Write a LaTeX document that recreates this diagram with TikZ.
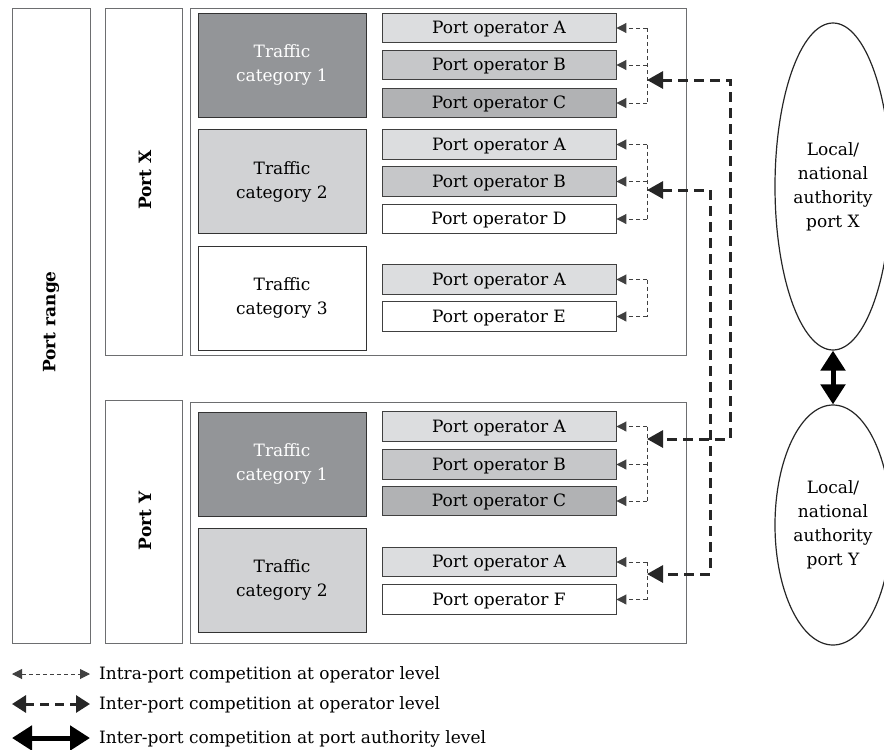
\documentclass[tikz,border=0pt]{standalone}
\usepackage{fontspec}
\setmainfont{DejaVu Serif}
\usetikzlibrary{arrows.meta,shapes.geometric}
\definecolor{catdark}{HTML}{939598}
\definecolor{catlight}{HTML}{D1D2D4}
\definecolor{opA}{HTML}{DCDDDF}
\definecolor{opB}{HTML}{C6C7C9}
\definecolor{opC}{HTML}{B1B2B4}
\definecolor{frameC}{HTML}{6D6E70}
\begin{document}
\begin{tikzpicture}[x=1pt,y=-1pt,
  txt/.style={font=\fontsize{17}{24}\selectfont},
  boldtxt/.style={font=\fontsize{17}{24}\selectfont\bfseries},
  frame/.style={draw=frameC,line width=1pt,inner sep=0pt},
  catbox/.style={draw=black!80,line width=0.9pt,minimum width=168pt,minimum height=104pt,inner sep=0pt,align=center,txt},
  opbox/.style={draw=black!75,line width=0.9pt,minimum width=234pt,minimum height=29.5pt,inner sep=0pt,text height=12.5pt,text depth=1.5pt,txt},
  intra/.style={draw=black!75,line width=1pt,dash pattern=on 4pt off 3pt},
  intrahead/.style={-{Triangle[length=10pt,width=10pt]}},
  inter/.style={draw=black!85,line width=3pt,dash pattern=on 10pt off 6pt,{Triangle[length=16pt,width=17pt]}-{Triangle[length=16pt,width=17pt]}},
  auth/.style={draw=black,line width=5pt,{Triangle[length=20pt,width=24pt]}-{Triangle[length=20pt,width=24pt]}},
  authority/.style={draw=black!85,line width=1.2pt,ellipse,minimum width=116pt,align=center,inner sep=0pt,txt}
]
\useasboundingbox (0,0) rectangle (884,750);
% outer frames
\node[frame,minimum width=78pt,minimum height=635pt] (range) at (51,325.5) {};
\node[rotate=90,boldtxt] (rangelbl) at (51,322) {Port range};
\node[frame,minimum width=77pt,minimum height=347pt] (portX) at (143.5,181.5) {};
\node[rotate=90,boldtxt] (portXlbl) at (145,180) {Port X};
\node[frame,minimum width=77pt,minimum height=243pt] (portY) at (143.5,521.5) {};
\node[rotate=90,boldtxt] (portYlbl) at (145,521) {Port Y};
\node[frame,minimum width=496pt,minimum height=347pt] (Xin) at (438,181.5) {};
\node[frame,minimum width=496pt,minimum height=241pt] (Yin) at (438,522.5) {};
% traffic categories
\node[catbox,fill=catdark,text=white] (xc1) at (282,65) {Traffic\\category 1};
\node[catbox,fill=catlight] (xc2) at (282,181.5) {Traffic\\category 2};
\node[catbox,fill=white] (xc3) at (282,298) {Traffic\\category 3};
\node[catbox,fill=catdark,text=white] (yc1) at (282,464) {Traffic\\category 1};
\node[catbox,fill=catlight] (yc2) at (282,580) {Traffic\\category 2};
% operators port X
\node[opbox,fill=opA] (x1a) at (499,28) {Port operator A};
\node[opbox,fill=opB] (x1b) at (499,65) {Port operator B};
\node[opbox,fill=opC] (x1c) at (499,103) {Port operator C};
\node[opbox,fill=opA] (x2a) at (499,144.5) {Port operator A};
\node[opbox,fill=opB] (x2b) at (499,181.5) {Port operator B};
\node[opbox,fill=white] (x2d) at (499,219) {Port operator D};
\node[opbox,fill=opA] (x3a) at (499,279.5) {Port operator A};
\node[opbox,fill=white] (x3e) at (499,316.5) {Port operator E};
% operators port Y
\node[opbox,fill=opA] (y1a) at (499,426.5) {Port operator A};
\node[opbox,fill=opB] (y1b) at (499,464.5) {Port operator B};
\node[opbox,fill=opC] (y1c) at (499,501) {Port operator C};
\node[opbox,fill=opA] (y2a) at (499,562) {Port operator A};
\node[opbox,fill=white] (y2f) at (499,599.5) {Port operator F};
% intra-port connectors
\foreach \g in {x1a,x1b,x1c,x2a,x2b,x2d,x3a,x3e,y1a,y1b,y1c,y2a,y2f}{
  \coordinate (c\g) at (647,0 |- \g.east);
  \draw[intra,intrahead] (c\g) -- (\g.east);
}
\draw[intra] (cx1a) -- (cx1c);
\draw[intra] (cx2a) -- (cx2d);
\draw[intra] (cx3a) -- (cx3e);
\draw[intra] (cy1a) -- (cy1c);
\draw[intra] (cy2a) -- (cy2f);
% inter-port connectors
\coordinate (jx1) at (647,80);
\coordinate (kx1) at (730,80);
\coordinate (ky1) at (730,439);
\coordinate (jy1) at (647,439);
\coordinate (jx2) at (647,190);
\coordinate (kx2) at (710,190);
\coordinate (ky2) at (710,574);
\coordinate (jy2) at (647,574);
\draw[inter] (jx1) -- (kx1) -- (ky1) -- (jy1);
\draw[inter] (jx2) -- (kx2) -- (ky2) -- (jy2);
% authorities
\node[authority,minimum height=327pt] (authX) at (833,186.5) {Local/\\national\\authority\\port X};
\node[authority,minimum height=240pt] (authY) at (833,525) {Local/\\national\\authority\\port Y};
\draw[auth] (authX.south) -- (authY.north);
% legend
\coordinate (l1a) at (12,674); \coordinate (l1b) at (90,674);
\coordinate (l2a) at (12,704); \coordinate (l2b) at (90,704);
\coordinate (l3a) at (12,738); \coordinate (l3b) at (90,738);
\draw[intra,{Triangle[length=10pt,width=10pt]}-{Triangle[length=10pt,width=10pt]}] (l1a) -- (l1b);
\draw[draw=black!85,line width=3pt,dash pattern=on 9pt off 6pt,{Triangle[length=14pt,width=17pt]}-{Triangle[length=14pt,width=17pt]}] (l2a) -- (l2b);
\draw[auth] (l3a) -- (l3b);
\node[txt,anchor=west,inner sep=0pt] (t1) at (99,675) {Intra-port competition at operator level};
\node[txt,anchor=west,inner sep=0pt] (t2) at (99,705) {Inter-port competition at operator level};
\node[txt,anchor=west,inner sep=0pt] (t3) at (99,739) {Inter-port competition at port authority level};
\end{tikzpicture}
\end{document}
